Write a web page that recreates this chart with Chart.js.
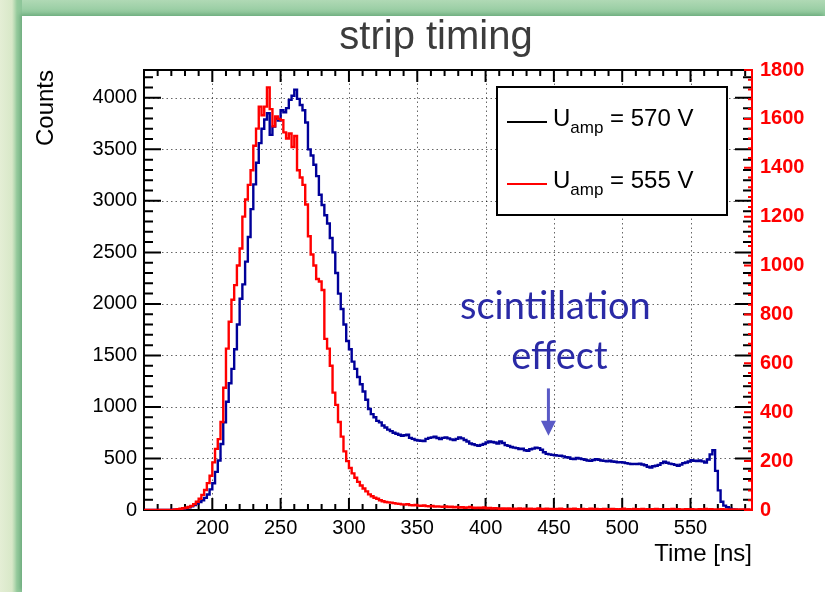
<!DOCTYPE html>
<html>
<head>
<meta charset="utf-8">
<script src="https://cdn.jsdelivr.net/npm/chart.js@4/dist/chart.umd.min.js"></script>
<style>
html,body{margin:0;padding:0;width:825px;height:592px;overflow:hidden;background:#fff}
#bgTop{position:absolute;left:0;top:0;width:825px;height:16px;background:linear-gradient(#b0d9b5,#8cc79a)}
#bgLeft{position:absolute;left:0;top:0;width:22px;height:592px;background:linear-gradient(to right,#e4eed5 0,#d8e8c8 12px,#96cb9d 17px,#8cc599 22px)}
#panel{position:absolute;left:22px;top:16px;width:803px;height:576px;background:#fff;box-shadow:-2px -2px 4px rgba(70,140,90,0.45)}
#wrap{position:absolute;left:0;top:0;width:825px;height:592px}
</style>
</head>
<body>
<div id="bgTop"></div><div id="bgLeft"></div><div id="panel"></div>
<div id="wrap"><canvas id="c" width="825" height="592"></canvas></div>
<script>
const FONT = "'Liberation Sans', Arial, Helvetica, sans-serif";

// ---- data (2 ns bins starting at 150 ns) ----
const binStart = 150;
const binWidth = 2;

// U_amp = 570 V  (left axis, counts)
const blueCounts = [
  0,0,0,0,0,0,0,0,0,0,
  2,4,6,8,12,18,25,35,48,62,
  78,95,118,150,200,260,370,480,640,850,
  1050,1230,1370,1560,1800,2050,2190,2410,2650,2920,
  3160,3370,3560,3700,3790,3850,3640,3720,3800,3780,
  3880,3860,3900,3980,4020,4080,3990,3930,3880,3760,
  3500,3440,3350,3240,3060,2960,2860,2780,2640,2500,
  2300,2100,1950,1800,1640,1560,1440,1370,1290,1220,
  1150,1070,980,930,900,865,850,820,800,780,
  765,750,740,730,720,725,730,700,690,680,
  675,672,670,690,700,705,712,698,688,700,
  705,695,685,678,690,705,695,680,665,645,
  638,630,622,632,640,655,665,660,655,645,
  665,650,630,622,612,605,600,592,595,580,
  575,590,596,605,600,585,560,545,540,535,
  532,528,526,520,512,510,498,494,505,500,
  494,488,480,477,485,494,488,480,477,472,
  478,470,468,462,465,461,455,450,445,448,
  445,450,442,435,420,413,425,430,438,455,
  468,458,450,445,438,429,440,455,461,470,
  484,478,475,480,472,461,490,540,580,380,
  190,80,42,26,12,5,2,0,0,0,0,0
];

// U_amp = 555 V  (right axis, counts)
const redCounts = [
  0,0,0,0,0,0,0,0,0,0,
  0,2,3,5,7,9,12,17,24,34,
  46,62,82,110,140,195,250,290,360,500,
  660,770,860,920,1000,1070,1200,1270,1330,1390,
  1490,1560,1650,1615,1650,1729,1640,1570,1610,1600,
  1595,1545,1520,1540,1485,1530,1390,1360,1330,1250,
  1120,1045,1000,945,935,900,700,660,590,480,
  430,360,300,240,200,172,150,132,115,100,
  88,76,64,56,50,46,40,36,33,31,
  30,28,26,25,23,22,24,20,19,21,
  18,17,19,16,15,17,14,15,14,13,
  15,12,13,11,12,10,11,9,10,12,
  9,8,9,8,10,7,8,6,7,6,
  5,6,5,6,4,5,4,6,3,5,
  4,5,3,4,6,3,4,5,3,4,
  3,4,5,3,2,4,3,5,3,2,
  4,3,2,5,3,4,2,3,4,3,
  2,4,3,2,3,5,2,3,2,4,
  3,2,4,2,3,2,3,4,2,3,
  2,3,2,4,2,3,2,2,3,2,
  3,2,2,3,2,4,2,3,2,2,
  2,3,2,2,1,2,2,1,2,2,1,2
];

const xTickValues = [200,250,300,350,400,450,500,550];
const leftTickValues = [0,500,1000,1500,2000,2500,3000,3500,4000];
const rightTickValues = [0,200,400,600,800,1000,1200,1400,1600,1800];
const xRange = [150, 595];
const leftRange = [0, 4270];
const rightRange = [0, 1800];

const chartTitle = 'strip timing';
const xTitle = 'Time [ns]';
const yTitle = 'Counts';
const seriesSymbol = 'U';
const seriesSub = 'amp';
const seriesValues = ['570 V', '555 V'];
const seriesColors = ['#000099', '#ff0000'];
const legendLineColors = ['#000000', '#ff0000'];
const annotationLines = ['scintillation', 'effect'];
const annotationX = 446;          // ns
const annotationArrow = [1180, 720]; // counts (left axis), from -> to

function toSteps(vals) {
  const pts = vals.map((v, i) => ({x: binStart + i * binWidth, y: v}));
  pts.push({x: binStart + vals.length * binWidth, y: vals[vals.length - 1]});
  return pts;
}

const rootStyle = {
  id: 'rootStyle',
  beforeDatasetsDraw(chart) {
    const {ctx, chartArea: a, scales: {x, y}} = chart;
    ctx.save();
    // dotted grid
    ctx.strokeStyle = 'rgba(0,0,0,0.6)';
    ctx.lineWidth = 1;
    ctx.setLineDash([1.5, 3]);
    ctx.beginPath();
    xTickValues.forEach(v => {
      const p = Math.round(x.getPixelForValue(v)) + 0.5;
      ctx.moveTo(p, a.top); ctx.lineTo(p, a.bottom);
    });
    leftTickValues.forEach(v => {
      if (v <= leftRange[0]) return;
      const p = Math.round(y.getPixelForValue(v)) + 0.5;
      ctx.moveTo(a.left, p); ctx.lineTo(a.right, p);
    });
    ctx.stroke();
    ctx.setLineDash([]);
    // ticks (ROOT style, inward)
    ctx.strokeStyle = '#000';
    ctx.lineWidth = 2;
    ctx.beginPath();
    for (let v = Math.ceil(x.min / 10) * 10; v <= x.max; v += 10) {
      const len = (v % 50 === 0) ? 12 : 6;
      const p = x.getPixelForValue(v);
      ctx.moveTo(p, a.bottom); ctx.lineTo(p, a.bottom - len);
      ctx.moveTo(p, a.top); ctx.lineTo(p, a.top + len);
    }
    for (let v = 0; v <= y.max; v += 100) {
      const len = (v % 500 === 0) ? 17 : 9;
      const p = y.getPixelForValue(v);
      ctx.moveTo(a.left, p); ctx.lineTo(a.left + len, p);
      ctx.moveTo(a.right, p); ctx.lineTo(a.right - len, p);
    }
    ctx.stroke();
    // frame
    ctx.lineWidth = 2;
    ctx.strokeRect(a.left, a.top, a.right - a.left, a.bottom - a.top);
    ctx.restore();
  },
  afterDatasetsDraw(chart) {
    const {ctx, chartArea: a, scales: {x, y, y2}} = chart;
    ctx.save();
    // red right axis
    ctx.strokeStyle = '#ff0000';
    ctx.lineWidth = 2;
    ctx.beginPath();
    ctx.moveTo(a.right, a.top); ctx.lineTo(a.right, a.bottom);
    for (let v = 0; v <= y2.max; v += 40) {
      const len = (v % 200 === 0) ? 8 : 4;
      const p = y2.getPixelForValue(v);
      ctx.moveTo(a.right + 1, p); ctx.lineTo(a.right - len, p);
    }
    ctx.stroke();

    // title
    ctx.fillStyle = '#3c3c3c';
    ctx.font = '40px ' + FONT;
    ctx.textAlign = 'center';
    ctx.textBaseline = 'middle';
    ctx.fillText(chartTitle, (a.left + a.right) / 2 - 12, 38);

    // legend box
    const bx = a.right - 255, by = a.top + 17, bw = 230, bh = 128;
    ctx.fillStyle = '#fff';
    ctx.fillRect(bx, by, bw, bh);
    ctx.strokeStyle = '#000';
    ctx.lineWidth = 2;
    ctx.strokeRect(bx, by, bw, bh);
    const rows = [by + 35, by + 97];
    seriesValues.forEach((val, i) => {
      const ly = rows[i];
      ctx.strokeStyle = legendLineColors[i];
      ctx.lineWidth = 2;
      ctx.beginPath(); ctx.moveTo(bx + 10, ly); ctx.lineTo(bx + 50, ly); ctx.stroke();
      ctx.fillStyle = '#000';
      ctx.textAlign = 'left';
      ctx.textBaseline = 'alphabetic';
      let tx = bx + 56;
      const base = ly + 4;
      ctx.font = '24px ' + FONT;
      ctx.fillText(seriesSymbol, tx, base);
      tx += ctx.measureText(seriesSymbol).width;
      ctx.font = '17px ' + FONT;
      ctx.fillText(seriesSub, tx, base + 7);
      tx += ctx.measureText(seriesSub).width;
      ctx.font = '24px ' + FONT;
      ctx.fillText(' = ' + val, tx, base);
    });

    // annotation
    const ax = x.getPixelForValue(annotationX);
    const ay0 = y.getPixelForValue(annotationArrow[0]);
    const ay1 = y.getPixelForValue(annotationArrow[1]);
    ctx.fillStyle = '#2a2aa6';
    ctx.font = "38px Lato, 'Open Sans', sans-serif";
    ctx.textAlign = 'center';
    ctx.textBaseline = 'alphabetic';
    ctx.fillText(annotationLines[0], ax + 7, ay0 - 69);
    ctx.fillText(annotationLines[1], ax + 11, ay0 - 19);
    ctx.fillStyle = '#5a5ac6';
    ctx.fillRect(ax - 1.5, ay0, 3, (ay1 - ay0) - 14);
    ctx.beginPath();
    ctx.moveTo(ax - 7.5, ay1 - 15);
    ctx.lineTo(ax + 7.5, ay1 - 15);
    ctx.lineTo(ax, ay1);
    ctx.closePath();
    ctx.fill();
    ctx.restore();
  }
};

new Chart(document.getElementById('c'), {
  type: 'line',
  data: {
    datasets: [
      {label: 'U_amp = ' + seriesValues[0], data: toSteps(blueCounts), yAxisID: 'y',
       borderColor: seriesColors[0], borderWidth: 2.4, pointRadius: 0, stepped: true, fill: false, order: 1},
      {label: 'U_amp = ' + seriesValues[1], data: toSteps(redCounts), yAxisID: 'y2',
       borderColor: seriesColors[1], borderWidth: 2.4, pointRadius: 0, stepped: true, fill: false, order: 0}
    ]
  },
  options: {
    responsive: false,
    animation: false,
    devicePixelRatio: 1,
    layout: {padding: {top: 70, left: 0, right: 0, bottom: 0}},
    plugins: {legend: {display: false}, tooltip: {enabled: false}, title: {display: false}},
    scales: {
      x: {
        type: 'linear', position: 'bottom', min: xRange[0], max: xRange[1],
        afterBuildTicks: s => { s.ticks = xTickValues.map(v => ({value: v})); },
        afterFit: s => { s.height = 82; },
        grid: {display: false, drawTicks: false}, border: {display: false},
        ticks: {font: {family: FONT, size: 20}, color: '#000', padding: 6, maxRotation: 0, autoSkip: false,
                callback: v => String(v)},
        title: {display: true, text: xTitle, align: 'end', font: {family: FONT, size: 24}, color: '#000',
                padding: {top: 0, bottom: 23}}
      },
      y: {
        type: 'linear', position: 'left', min: leftRange[0], max: leftRange[1],
        afterBuildTicks: s => { s.ticks = leftTickValues.map(v => ({value: v})); },
        afterFit: s => { s.width = 144; },
        grid: {display: false, drawTicks: false}, border: {display: false},
        ticks: {font: {family: FONT, size: 20}, color: '#000', padding: 7, callback: v => String(v)},
        title: {display: true, text: yTitle, align: 'end', font: {family: FONT, size: 24}, color: '#000',
                padding: {top: 32, bottom: 0}}
      },
      y2: {
        type: 'linear', position: 'right', min: rightRange[0], max: rightRange[1],
        afterBuildTicks: s => { s.ticks = rightTickValues.map(v => ({value: v})); },
        afterFit: s => { s.width = 73; },
        grid: {display: false, drawTicks: false}, border: {display: false},
        ticks: {font: {family: FONT, size: 20, weight: 'bold'}, color: '#ff0000', padding: 8, callback: v => String(v)}
      }
    }
  },
  plugins: [rootStyle]
});
</script>
</body>
</html>
